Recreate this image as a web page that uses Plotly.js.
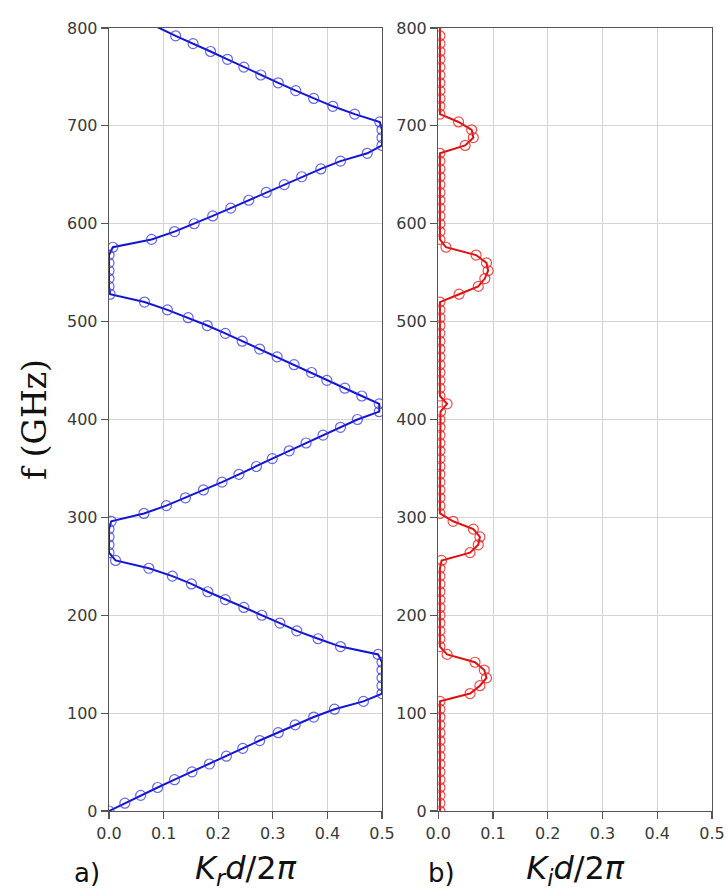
<!DOCTYPE html>
<html>
<head>
<meta charset="utf-8">
<script src="https://cdn.plot.ly/plotly-3.0.1.min.js"></script>
<style>
  html, body { margin: 0; padding: 0; background: #ffffff; }
  #chart { width: 728px; height: 891px; }
</style>
</head>
<body>
<div id="chart"></div>
<script>
// Frequency samples (GHz)
const freqGHz = [
  0, 8, 16, 24, 32, 40, 48, 56, 64, 72,
  80, 88, 96, 104, 112, 120, 128, 136, 144, 152,
  160, 168, 176, 184, 192, 200, 208, 216, 224, 232,
  240, 248, 256, 264, 272, 280, 288, 296, 304, 312,
  320, 328, 336, 344, 352, 360, 368, 376, 384, 392,
  400, 408, 416, 424, 432, 440, 448, 456, 464, 472,
  480, 488, 496, 504, 512, 520, 528, 536, 544, 552,
  560, 568, 576, 584, 592, 600, 608, 616, 624, 632,
  640, 648, 656, 664, 672, 680, 688, 696, 704, 712,
  720, 728, 736, 744, 752, 760, 768, 776, 784, 792,
  808
];

// Real part of Bloch wavenumber, Kr d / 2pi
const krNorm = [
  0.000, 0.029, 0.058, 0.089, 0.120, 0.152, 0.184, 0.215, 0.245, 0.276,
  0.310, 0.341, 0.375, 0.413, 0.466, 0.500, 0.500, 0.500, 0.500, 0.500,
  0.493, 0.424, 0.383, 0.344, 0.313, 0.280, 0.247, 0.213, 0.181, 0.151,
  0.116, 0.073, 0.012, 0.000, 0.000, 0.000, 0.000, 0.004, 0.064, 0.105,
  0.140, 0.173, 0.207, 0.238, 0.270, 0.299, 0.330, 0.361, 0.392, 0.424,
  0.455, 0.495, 0.495, 0.463, 0.432, 0.399, 0.371, 0.339, 0.308, 0.276,
  0.244, 0.213, 0.180, 0.145, 0.107, 0.065, 0.002, 0.000, 0.000, 0.000,
  0.000, 0.000, 0.007, 0.078, 0.120, 0.156, 0.190, 0.223, 0.256, 0.288,
  0.321, 0.353, 0.388, 0.424, 0.473, 0.500, 0.500, 0.500, 0.496, 0.450,
  0.410, 0.375, 0.342, 0.310, 0.278, 0.247, 0.217, 0.186, 0.154, 0.122,
  0.062
];

// Imaginary part of Bloch wavenumber, Ki d / 2pi
const kiNorm = [
  0.003, 0.003, 0.003, 0.003, 0.003, 0.003, 0.003, 0.003, 0.003, 0.003,
  0.003, 0.003, 0.003, 0.003, 0.003, 0.058, 0.076, 0.088, 0.084, 0.067,
  0.016, 0.003, 0.003, 0.003, 0.003, 0.003, 0.003, 0.003, 0.003, 0.003,
  0.003, 0.003, 0.006, 0.058, 0.073, 0.076, 0.064, 0.027, 0.003, 0.003,
  0.003, 0.003, 0.003, 0.003, 0.003, 0.003, 0.003, 0.003, 0.003, 0.003,
  0.003, 0.004, 0.016, 0.003, 0.003, 0.003, 0.003, 0.003, 0.003, 0.003,
  0.003, 0.003, 0.003, 0.003, 0.003, 0.003, 0.038, 0.073, 0.085, 0.091,
  0.088, 0.069, 0.014, 0.003, 0.003, 0.003, 0.003, 0.003, 0.003, 0.003,
  0.003, 0.003, 0.003, 0.003, 0.003, 0.049, 0.064, 0.061, 0.037, 0.003,
  0.003, 0.003, 0.003, 0.003, 0.003, 0.003, 0.003, 0.003, 0.003, 0.003,
  0.003
];

const xTickVals = [0, 0.1, 0.2, 0.3, 0.4, 0.5];
const xTickText = ["0.0", "0.1", "0.2", "0.3", "0.4", "0.5"];
const yTickVals = [0, 100, 200, 300, 400, 500, 600, 700, 800];
const yTickText = ["0", "100", "200", "300", "400", "500", "600", "700", "800"];

const traces = [
  {
    type: 'scatter', mode: 'lines+markers',
    x: krNorm, y: freqGHz, xaxis: 'x', yaxis: 'y',
    line: { color: '#1414d2', width: 2 },
    marker: { symbol: 'circle-open', size: 10, color: 'rgba(50,50,235,0.75)', line: { width: 1.2 } },
    cliponaxis: true, showlegend: false, hoverinfo: 'x+y'
  },
  {
    type: 'scatter', mode: 'lines+markers',
    x: kiNorm, y: freqGHz, xaxis: 'x2', yaxis: 'y2',
    line: { color: '#e01010', width: 2 },
    marker: { symbol: 'circle-open', size: 10, color: 'rgba(235,30,30,0.8)', line: { width: 1.2 } },
    cliponaxis: true, showlegend: false, hoverinfo: 'x+y'
  }
];

const tickFont = { family: 'DejaVu Sans', size: 16, color: '#3a3a3a' };
const axisCommon = {
  showline: true, mirror: true, linecolor: '#555555', linewidth: 1.3,
  ticks: 'outside', ticklen: 7, tickwidth: 1.2, tickcolor: '#555555',
  showgrid: true, gridcolor: '#d4d4d4', gridwidth: 1,
  zeroline: false, tickfont: tickFont, fixedrange: true
};

const layout = {
  width: 728, height: 891,
  margin: { l: 109, r: 16, t: 28, b: 80 },
  paper_bgcolor: '#ffffff', plot_bgcolor: '#ffffff',
  xaxis: Object.assign({}, axisCommon, {
    domain: [0, 0.4527], range: [0, 0.5], anchor: 'y',
    tickmode: 'array', tickvals: xTickVals, ticktext: xTickText,
    title: { text: '<i>K<sub>r</sub>d</i>/2<i>π</i>', font: { family: 'DejaVu Sans', size: 32, color: '#111111' }, standoff: 22 }
  }),
  yaxis: Object.assign({}, axisCommon, {
    domain: [0, 1], range: [0, 800], anchor: 'x',
    tickmode: 'array', tickvals: yTickVals, ticktext: yTickText,
    title: { text: 'f (GHz)', font: { family: 'DejaVu Serif', size: 33, color: '#111111' }, standoff: 10 }
  }),
  xaxis2: Object.assign({}, axisCommon, {
    domain: [0.5461, 1], range: [0, 0.5], anchor: 'y2',
    tickmode: 'array', tickvals: xTickVals, ticktext: xTickText,
    title: { text: '<i>K<sub>i</sub>d</i>/2<i>π</i>', font: { family: 'DejaVu Sans', size: 32, color: '#111111' }, standoff: 22 }
  }),
  yaxis2: Object.assign({}, axisCommon, {
    domain: [0, 1], range: [0, 800], anchor: 'x2',
    tickmode: 'array', tickvals: yTickVals, ticktext: yTickText
  }),
  annotations: [
    { text: 'a)', xref: 'paper', yref: 'paper', x: -0.0365, y: -0.1015, xanchor: 'center', yanchor: 'bottom',
      showarrow: false, font: { family: 'DejaVu Sans', size: 26, color: '#111111' } },
    { text: 'b)', xref: 'paper', yref: 'paper', x: 0.5506, y: -0.1015, xanchor: 'center', yanchor: 'bottom',
      showarrow: false, font: { family: 'DejaVu Sans', size: 26, color: '#111111' } }
  ]
};

Plotly.newPlot('chart', traces, layout, { displayModeBar: false, staticPlot: true });
</script>
</body>
</html>
